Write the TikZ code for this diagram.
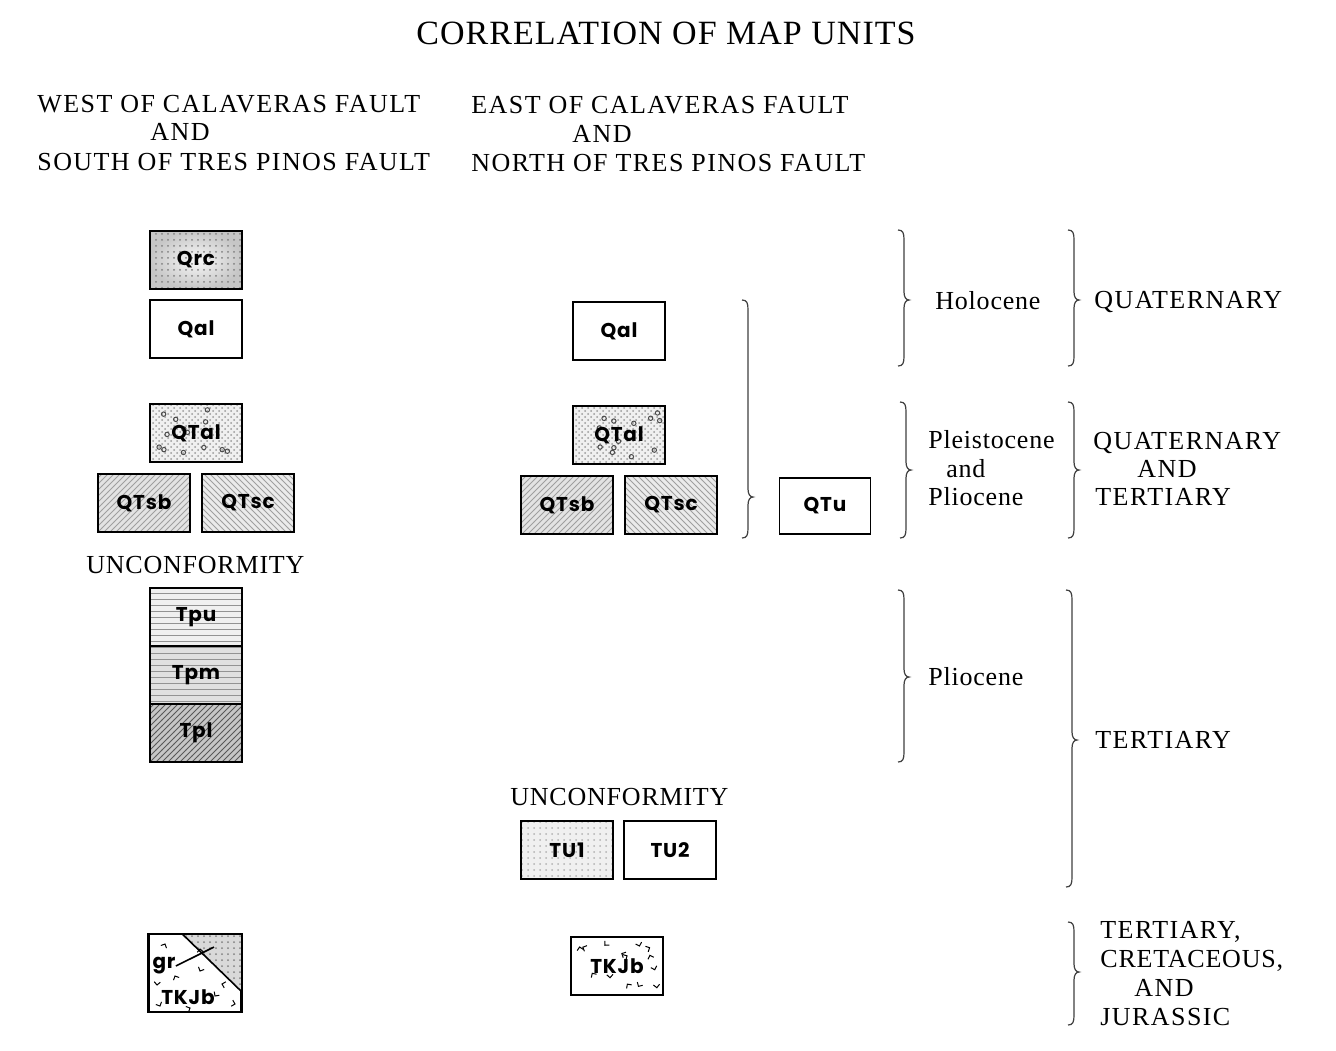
\documentclass[tikz,border=0pt]{standalone}
\usepackage{fontspec}
\setmainfont{Liberation Serif}
\newfontfamily\capfont{Liberation Serif}[LetterSpace=3]
\newfontfamily\widecapfont{Liberation Serif}[LetterSpace=5.5]
\newfontfamily\unitfont{Poppins}[LetterSpace=4]
\usetikzlibrary{patterns,calc,positioning}

\tikzset{
  unit/.style={draw, line width=0.9pt, minimum width=46pt, minimum height=29pt,
    inner sep=0pt, font=\unitfont\bfseries\fontsize{10}{12}\selectfont},
  blank/.style={fill=white},
  stipple/.style={preaction={fill=gray!#1}, pattern=dots, pattern color=black!55},
  shadedstipple/.style={preaction={shade, shading=radial, inner color=gray!5, outer color=gray!45},
    pattern=dots, pattern color=black!50},
  gravel/.style={preaction={fill=gray!12}, pattern=crosshatch dots, pattern color=gray!80,
    path picture={\foreach \k in {1,...,13}{
      \pgfmathsetmacro\gx{2+rnd*42}\pgfmathsetmacro\gy{2+rnd*25}
      \draw[black!70, line width=0.5pt] ($(path picture bounding box.south west)+(\gx pt,\gy pt)$) circle (1.1pt);}}},
  slantA/.style={preaction={fill=gray!22}, pattern=north east lines, pattern color=gray!75},
  slantB/.style={preaction={fill=gray!16}, pattern=north west lines, pattern color=gray!75},
  bedded/.style={preaction={fill=gray!#1}, pattern=horizontal lines, pattern color=gray!85},
  chevrons/.style={fill=white, path picture={\foreach \k in {1,...,14}{
      \pgfmathsetmacro\gx{3+rnd*40}\pgfmathsetmacro\gy{3+rnd*23}\pgfmathsetmacro\ga{rnd*360}
      \draw[line width=0.5pt] ($(path picture bounding box.south west)+(\gx pt,\gy pt)$)
        +(\ga:2.2pt) -- +(0,0) -- +({\ga+90}:2.2pt);}}},
  heading/.style={font=\capfont\fontsize{13}{15}\selectfont, anchor=base west, inner sep=0pt},
  wideheading/.style={heading, font=\widecapfont\fontsize{13}{15}\selectfont},
  titletext/.style={font=\capfont\fontsize{17}{20}\selectfont, anchor=base, inner sep=0pt},
  unitlabel/.style={font=\unitfont\bfseries\fontsize{10}{12}\selectfont, inner sep=0pt},
  bracestroke/.style={draw=black!75, line width=0.6pt}
}

% brace: left x, top y, bottom y, tip y
\newcommand{\agebrace}[4]{%
  \draw[bracestroke] (#1,#2) .. controls (#1+5,#2) and (#1+6,#2+3) .. (#1+6,#2+10)
    -- (#1+6,#4-8) .. controls (#1+6,#4-3) and (#1+8,#4) .. (#1+11,#4)
    .. controls (#1+8,#4) and (#1+6,#4+3) .. (#1+6,#4+8)
    -- (#1+6,#3-10) .. controls (#1+6,#3-3) and (#1+5,#3) .. (#1,#3);}

\begin{document}
\begin{tikzpicture}[x=0.5pt, y=-0.5pt]
\pgfmathsetseed{7}
\useasboundingbox[fill=white] (0,0) rectangle (1336,1050);

% headings
\node[titletext] (title) at (666,44) {CORRELATION OF MAP UNITS};
\node[wideheading] (westA) at (37,112) {WEST OF CALAVERAS FAULT};
\node[wideheading] (westB) at (150,140) {AND};
\node[wideheading] (westC) at (37,170) {SOUTH OF TRES PINOS FAULT};
\node[wideheading] (eastA) at (471,113) {EAST OF CALAVERAS FAULT};
\node[wideheading] (eastB) at (572,142) {AND};
\node[wideheading] (eastC) at (471,171) {NORTH OF TRES PINOS FAULT};

% west column
\node[unit, shadedstipple] (wQrc) at (196,260) {Qrc};
\node[unit, blank] (wQal) at (196,329) {Qal};
\node[unit, gravel] (wQTal) at (196,433) {QTal};
\node[unit, slantA] (wQTsb) at (144,503) {QTsb};
\node[unit, slantB] (wQTsc) at (248,503) {QTsc};
\node[heading] (wUnconf) at (86,573) {UNCONFORMITY};
\node[unit, bedded=12] (wTpu) at (196,617) {Tpu};
\node[unit, bedded=24] (wTpm) at (196,675) {Tpm};
\node[unit, preaction={fill=gray!45}, pattern=north east lines, pattern color=black!65] (wTpl) at (196,733) {Tpl};

% granitic and basement box
\node[unit, blank, minimum height=38.5pt] (wBase) at (195,973) {};
\coordinate (cutTop) at ($(wBase.north west)!0.36!(wBase.north east)$);
\coordinate (cutSide) at ($(wBase.north east)!0.74!(wBase.south east)$);
\fill[gray!30] (cutTop) -- (wBase.north east) -- (cutSide) -- cycle;
\fill[pattern=dots, pattern color=black!50] (cutTop) -- (wBase.north east) -- (cutSide) -- cycle;
\foreach \px/\py/\pa in {165/944/200, 200/949/230, 157/985/40, 175/976/250, 200/971/20,
    222/984/300, 160/1006/70, 235/1004/120, 190/1008/160, 215/996/10}
  \draw[line width=0.5pt] (\px,\py) +(\pa:2.2pt) -- +(0,0) -- +({\pa+90}:2.2pt);
\draw[line width=0.8pt] (cutTop) -- (cutSide);
\draw[line width=0.9pt] (wBase.north west) rectangle (wBase.south east);
\node[unitlabel] (grText) at (164,966) {gr};
\coordinate (grEnd) at (214,947);
\draw[line width=0.8pt] (grText.east) -- (grEnd);
\node[unitlabel] (wTKJb) at (188,997) {TKJb};

% east column
\node[unit, blank] (eQal) at (619,331) {Qal};
\node[unit, gravel] (eQTal) at (619,435) {QTal};
\node[unit, slantA] (eQTsb) at (567,505) {QTsb};
\node[unit, slantB] (eQTsc) at (671,505) {QTsc};
\node[unit, blank, minimum width=45.5pt, minimum height=28pt] (eQTu) at (825,506) {QTu};
\node[heading] (eUnconf) at (510,805) {UNCONFORMITY};
\node[unit, stipple=12, pattern color=gray!60] (eTU1) at (567,850) {TU1};
\node[unit, blank] (eTU2) at (670,850) {TU2};
\node[unit, chevrons] (eTKJb) at (617,966) {TKJb};

\agebrace{742}{300}{538}{497}

% ages
\agebrace{898}{230}{366}{300}
\node[heading] (holo) at (935,309) {Holocene};
\agebrace{1068}{230}{366}{300}
\node[wideheading] (quat) at (1094,308) {QUATERNARY};

\agebrace{900}{402}{538}{470}
\node[heading] (pleiA) at (928,448) {Pleistocene};
\node[heading] (pleiB) at (946,477) {and};
\node[heading] (pleiC) at (928,505) {Pliocene};
\agebrace{1068}{402}{538}{470}
\node[wideheading] (qtA) at (1093,449) {QUATERNARY};
\node[wideheading] (qtB) at (1137,477) {AND};
\node[wideheading] (qtC) at (1095,505) {TERTIARY};

\agebrace{898}{590}{762}{677}
\node[heading] (plio) at (928,685) {Pliocene};
\agebrace{1066}{590}{887}{740}
\node[wideheading] (tert) at (1095,748) {TERTIARY};

\agebrace{1068}{922}{1025}{972}
\node[wideheading] (tkjA) at (1100,938) {TERTIARY,};
\node[heading] (tkjB) at (1100,967) {CRETACEOUS,};
\node[wideheading] (tkjC) at (1134,996) {AND};
\node[wideheading] (tkjD) at (1100,1025) {JURASSIC};
\end{tikzpicture}
\end{document}
